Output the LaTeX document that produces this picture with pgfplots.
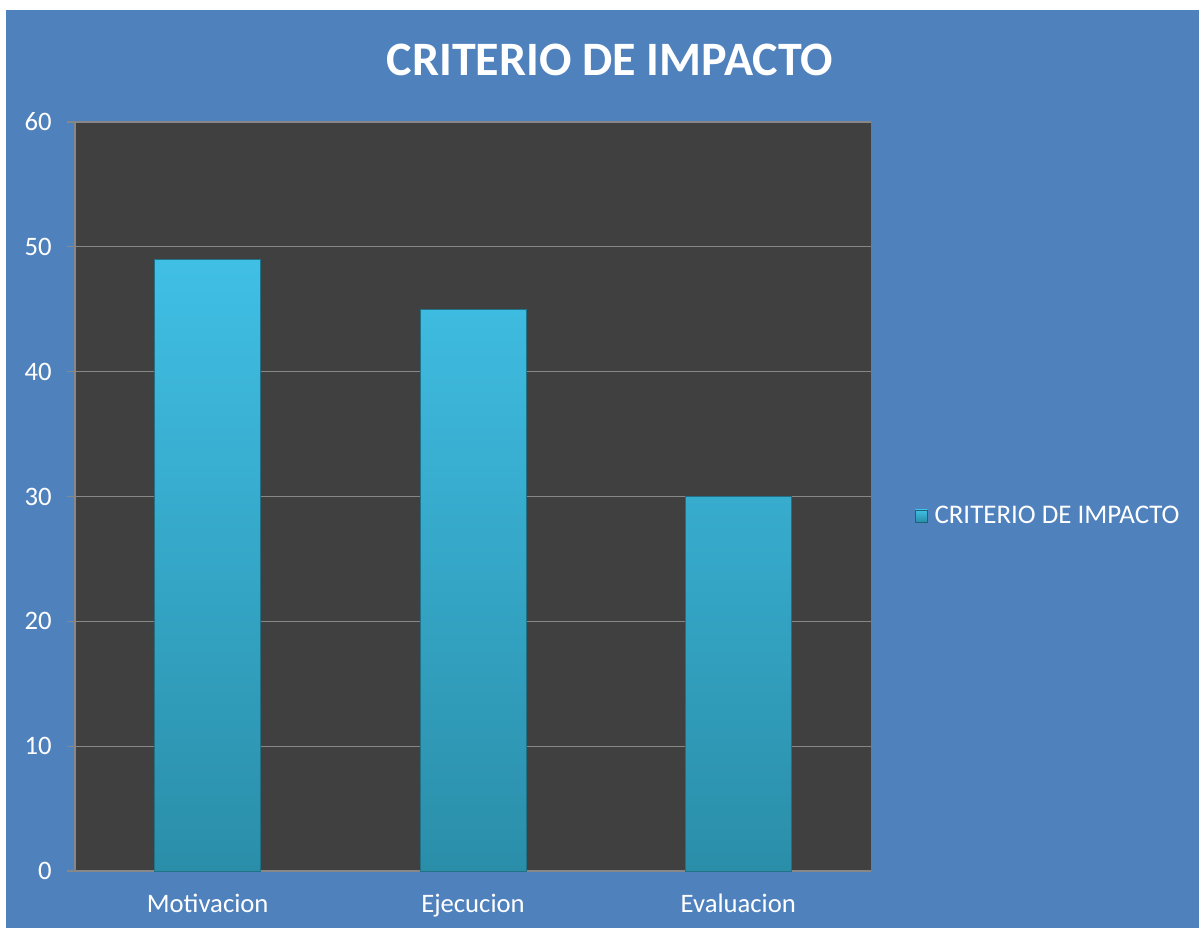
\documentclass[border=0pt]{standalone}
\usepackage{pgfplots}
\pgfplotsset{compat=1.18}
\usepackage{fontspec}
\setmainfont{Carlito}
\definecolor{bgblue}{HTML}{4F81BD}
\definecolor{plotgray}{HTML}{404040}
\definecolor{gridgray}{HTML}{878787}
\definecolor{bartop}{HTML}{40BFE5}
\definecolor{barbot}{HTML}{2A8EA9}
\begin{document}
\begin{tikzpicture}
\useasboundingbox (0,0) rectangle (899.25pt,699pt);
\fill[white] (0,0) rectangle (899.25pt,699pt);
\fill[bgblue] (4.5pt,3pt) rectangle (899.25pt,691.5pt);
\node[font=\fontsize{36}{42}\selectfont\bfseries, text=white] at (457.5pt,654pt) {CRITERIO DE IMPACTO};
\begin{axis}[
  at={(56.25pt,45.75pt)}, anchor=south west,
  scale only axis,
  width=597pt, height=561.75pt,
  xmin=-0.5, xmax=2.5, ymin=0, ymax=60,
  axis background/.style={fill=plotgray},
  axis line style={gridgray, line width=1pt},
  axis x line*=bottom, axis y line*=left,
  ytick={0,10,...,60},
  ymajorgrids, grid style={gridgray, line width=0.8pt},
  tick align=outside,
  major tick length=6pt,
  tick style={gridgray, line width=1pt},
  xtick={0,1,2},
  xticklabels={Motivacion,Ejecucion,Evaluacion},
  xtick style={draw=none},
  extra x ticks={-0.5,0.5,1.5,2.5},
  extra x tick labels={},
  extra x tick style={grid=none, tick style={gridgray, line width=1pt, draw=gridgray}, major tick length=6pt},
  ticklabel style={font=\fontsize{20}{24}\selectfont, text=white},
  /pgf/number format/assume math mode=true,
  yticklabel style={xshift=-8pt},
  xticklabel style={yshift=-8pt},
  legend style={at={(1.055,0.474)}, anchor=west, fill=none, draw=none,
    font=\fontsize{20.2}{24}\selectfont, text=white, inner sep=0pt,
    legend cell align=left},
  legend image code/.code={\fill[bartop, draw=barbot!70!black] (0pt,-4.5pt) rectangle (9pt,4.5pt); \path (12pt,0pt);},
  clip=false,
]
\addplot[ybar, bar width=79.5pt, top color=bartop, bottom color=barbot, draw=barbot!80!black, line width=0.6pt]
  coordinates {(0,49) (1,45) (2,30)};
\addlegendentry{CRITERIO DE IMPACTO}
\end{axis}
\end{tikzpicture}
\end{document}
